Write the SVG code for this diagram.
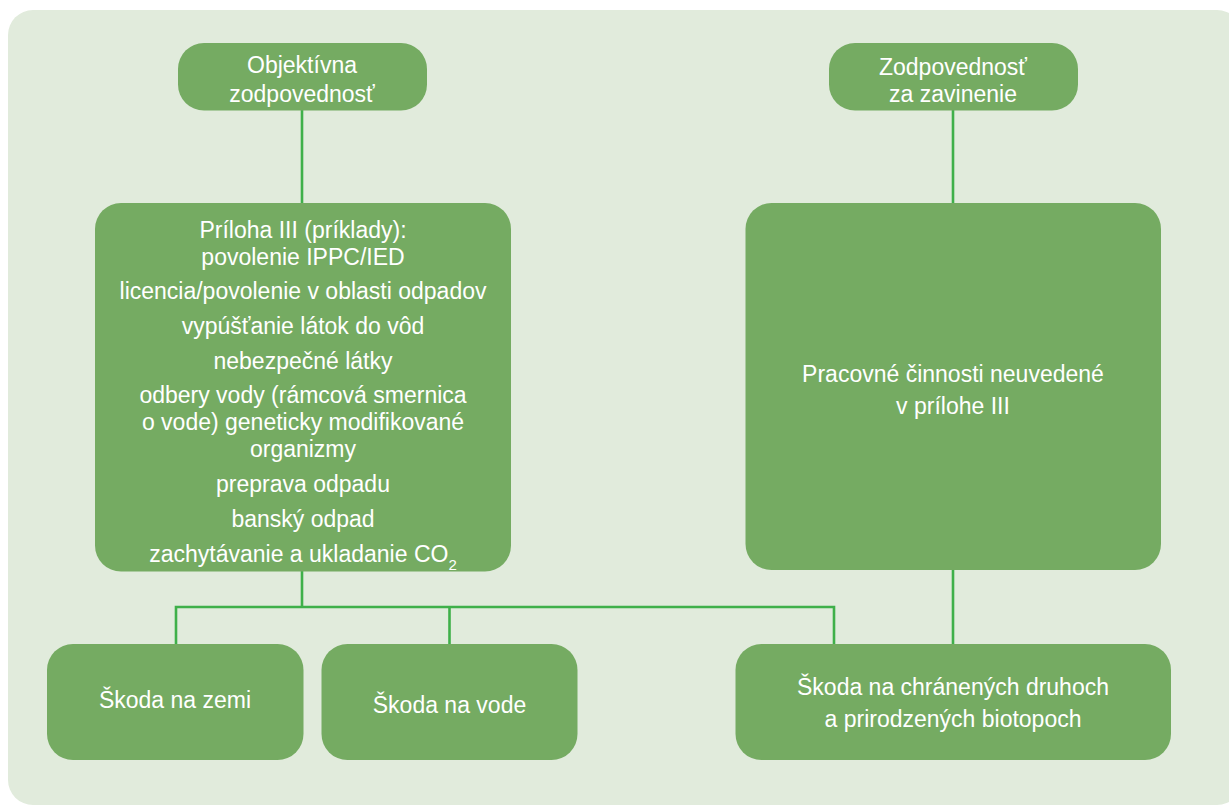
<svg xmlns="http://www.w3.org/2000/svg" width="1229" height="806" viewBox="0 0 1229 806">
  <style>
    .node { fill: #75ab62; }
    .t { fill: #ffffff; font-family: "Liberation Sans", Arial, sans-serif; font-size: 23px; text-anchor: middle; }
    .sub { font-size: 15px; }
    .conn { stroke: #3fb04a; stroke-width: 2.6; fill: none; }
  </style>
  <rect id="panel" x="8" y="10" width="1234" height="795" rx="25" ry="25" fill="#e1ebdc"/>

  <g id="connectors">
    <line class="conn" x1="302" y1="110" x2="302" y2="204"/>
    <line class="conn" x1="953" y1="110" x2="953" y2="204"/>
    <line class="conn" x1="302" y1="571" x2="302" y2="607"/>
    <polyline class="conn" points="176,645 176,607 834,607 834,645"/>
    <line class="conn" x1="449.5" y1="607" x2="449.5" y2="645"/>
    <line class="conn" x1="953" y1="570" x2="953" y2="645"/>
  </g>

  <g id="objektivna">
    <rect class="node" x="178" y="43" width="249" height="67.5" rx="26"/>
    <text class="t" x="302" y="72.5">Objektívna</text>
    <text class="t" x="302" y="101.5">zodpovednosť</text>
  </g>

  <g id="zavinenie">
    <rect class="node" x="829" y="43" width="249" height="67.5" rx="26"/>
    <text class="t" x="953" y="75">Zodpovednosť</text>
    <text class="t" x="953" y="101.5">za zavinenie</text>
  </g>

  <g id="priloha">
    <rect class="node" x="95" y="203" width="416" height="368.5" rx="26"/>
    <text class="t" x="303" y="238">Príloha III (príklady):</text>
    <text class="t" x="303" y="265">povolenie IPPC/IED</text>
    <text class="t" x="303" y="299">licencia/povolenie v oblasti odpadov</text>
    <text class="t" x="303" y="334">vypúšťanie látok do vôd</text>
    <text class="t" x="303" y="369">nebezpečné látky</text>
    <text class="t" x="303" y="403">odbery vody (rámcová smernica</text>
    <text class="t" x="303" y="430">o vode) geneticky modifikované</text>
    <text class="t" x="303" y="457">organizmy</text>
    <text class="t" x="303" y="492">preprava odpadu</text>
    <text class="t" x="303" y="527">banský odpad</text>
    <text class="t" x="303" y="562">zachytávanie a ukladanie CO<tspan class="sub" dy="8">2</tspan></text>
  </g>

  <g id="pracovne">
    <rect class="node" x="745.5" y="203" width="415.5" height="367" rx="26"/>
    <text class="t" x="953" y="382">Pracovné činnosti neuvedené</text>
    <text class="t" x="953" y="414">v prílohe III</text>
  </g>

  <g id="zem">
    <rect class="node" x="47" y="644" width="256.5" height="116" rx="26"/>
    <text class="t" x="175" y="708">Škoda na zemi</text>
  </g>

  <g id="voda">
    <rect class="node" x="321.5" y="644" width="256" height="116" rx="26"/>
    <text class="t" x="449.5" y="713">Škoda na vode</text>
  </g>

  <g id="druhy">
    <rect class="node" x="735.5" y="644" width="435.5" height="116" rx="26"/>
    <text class="t" x="953" y="695">Škoda na chránených druhoch</text>
    <text class="t" x="953" y="727">a prirodzených biotopoch</text>
  </g>
</svg>
